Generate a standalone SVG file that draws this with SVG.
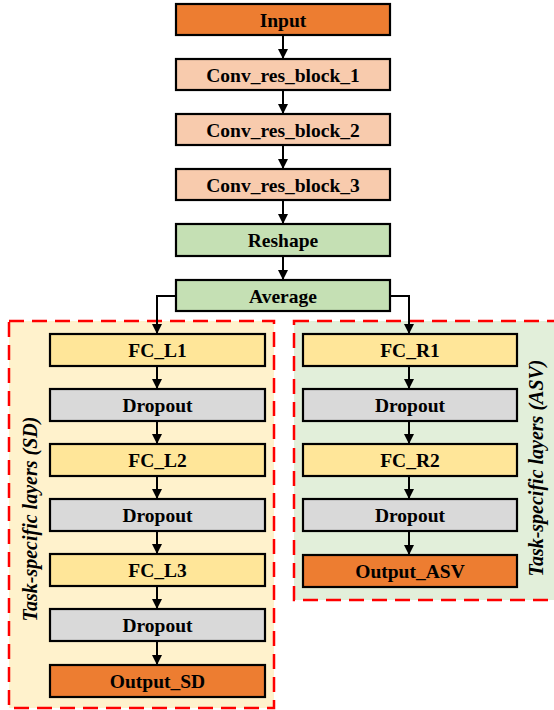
<svg xmlns="http://www.w3.org/2000/svg" width="554" height="710" viewBox="0 0 554 710">
<defs>
<marker id="ah" viewBox="0 0 10 10" refX="10" refY="5" markerWidth="10" markerHeight="10" markerUnits="userSpaceOnUse" orient="auto">
<path d="M0,0 L10,5 L0,10 z" fill="#000"/>
</marker>
<style>
.n{stroke:#000;stroke-width:2.2}
.t{font-family:"Liberation Serif","Times New Roman",serif;font-weight:bold;font-size:19.5px;fill:#000;text-anchor:middle}
.lab{font-family:"Liberation Serif","Times New Roman",serif;font-weight:bold;font-style:italic;font-size:20px;fill:#000;text-anchor:middle}
.c{fill:none;stroke:#000;stroke-width:2;marker-end:url(#ah)}
.grp{stroke:#FF0000;stroke-width:2.5;stroke-dasharray:15 8}
.orange{fill:#ED7D31}.peach{fill:#F8CBAD}.green{fill:#C5E0B4}.yellow{fill:#FFE699}.grey{fill:#D9D9D9}
</style>
</defs>
<g id="group-sd">
<rect class="grp" x="9" y="321" width="265" height="387" fill="#FFF2CC"/>
<text class="lab" transform="translate(37,519) rotate(-90)">Task-specific layers (SD)</text>
</g>
<g id="group-asv">
<rect class="grp" x="294" y="321" width="275" height="279" fill="#E2EFDA"/>
<text class="lab" transform="translate(543,468) rotate(-90)">Task-specific layers (ASV)</text>
</g>
<g id="connectors">
<line class="c" x1="283" y1="35" x2="283" y2="59"/>
<line class="c" x1="283" y1="90" x2="283" y2="114"/>
<line class="c" x1="283" y1="145" x2="283" y2="169"/>
<line class="c" x1="283" y1="200" x2="283" y2="224"/>
<line class="c" x1="283" y1="256" x2="283" y2="280"/>
<path class="c" d="M176,296 H157 V334"/>
<path class="c" d="M390,296 H409 V334"/>
<line class="c" x1="157" y1="366" x2="157" y2="389"/>
<line class="c" x1="157" y1="421" x2="157" y2="444"/>
<line class="c" x1="157" y1="476" x2="157" y2="499"/>
<line class="c" x1="157" y1="531" x2="157" y2="554"/>
<line class="c" x1="157" y1="586" x2="157" y2="609"/>
<line class="c" x1="157" y1="641" x2="157" y2="665"/>
<line class="c" x1="409" y1="366" x2="409" y2="389"/>
<line class="c" x1="409" y1="421" x2="409" y2="444"/>
<line class="c" x1="409" y1="476" x2="409" y2="499"/>
<line class="c" x1="409" y1="531" x2="409" y2="555"/>
</g>
<g id="input"><rect class="n orange" x="176" y="4" width="214" height="31"/><text class="t" x="283" y="26.5">Input</text></g>
<g id="conv1"><rect class="n peach" x="176" y="59" width="214" height="31"/><text class="t" x="283" y="81.5">Conv_res_block_1</text></g>
<g id="conv2"><rect class="n peach" x="176" y="114" width="214" height="31"/><text class="t" x="283" y="136.5">Conv_res_block_2</text></g>
<g id="conv3"><rect class="n peach" x="176" y="169" width="214" height="31"/><text class="t" x="283" y="191.5">Conv_res_block_3</text></g>
<g id="reshape"><rect class="n green" x="176" y="224" width="214" height="32"/><text class="t" x="283" y="247">Reshape</text></g>
<g id="average"><rect class="n green" x="176" y="280" width="214" height="31"/><text class="t" x="283" y="302.5">Average</text></g>
<g id="fc_l1"><rect class="n yellow" x="50" y="334" width="215" height="32"/><text class="t" x="157.5" y="357">FC_L1</text></g>
<g id="dropout_l1"><rect class="n grey" x="50" y="389" width="215" height="32"/><text class="t" x="157.5" y="412">Dropout</text></g>
<g id="fc_l2"><rect class="n yellow" x="50" y="444" width="215" height="32"/><text class="t" x="157.5" y="467">FC_L2</text></g>
<g id="dropout_l2"><rect class="n grey" x="50" y="499" width="215" height="32"/><text class="t" x="157.5" y="522">Dropout</text></g>
<g id="fc_l3"><rect class="n yellow" x="50" y="554" width="215" height="32"/><text class="t" x="157.5" y="577">FC_L3</text></g>
<g id="dropout_l3"><rect class="n grey" x="50" y="609" width="215" height="32"/><text class="t" x="157.5" y="632">Dropout</text></g>
<g id="output_sd"><rect class="n orange" x="50" y="665" width="215" height="32"/><text class="t" x="157.5" y="688">Output_SD</text></g>
<g id="fc_r1"><rect class="n yellow" x="303" y="334" width="214" height="32"/><text class="t" x="410" y="357">FC_R1</text></g>
<g id="dropout_r1"><rect class="n grey" x="303" y="389" width="214" height="32"/><text class="t" x="410" y="412">Dropout</text></g>
<g id="fc_r2"><rect class="n yellow" x="303" y="444" width="214" height="32"/><text class="t" x="410" y="467">FC_R2</text></g>
<g id="dropout_r2"><rect class="n grey" x="303" y="499" width="214" height="32"/><text class="t" x="410" y="522">Dropout</text></g>
<g id="output_asv"><rect class="n orange" x="303" y="555" width="214" height="32"/><text class="t" x="410" y="578">Output_ASV</text></g>
</svg>
